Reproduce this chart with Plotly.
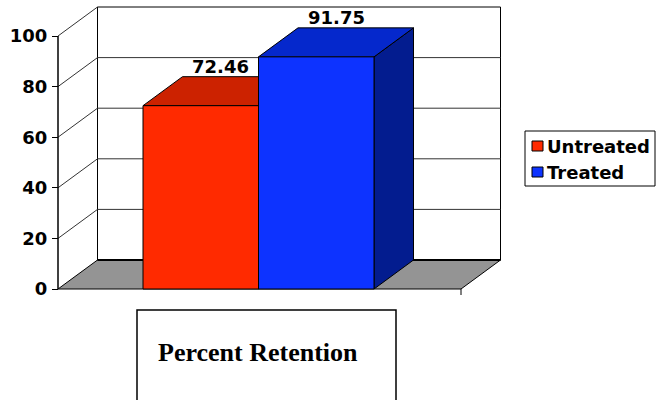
import plotly.graph_objects as go

# ---- data ----
categories = ["Untreated", "Treated"]
values = [72.46, 91.75]
value_labels = ["72.46", "91.75"]
tick_vals = [0, 20, 40, 60, 80, 100]
tick_text = ["0", "20", "40", "60", "80", "100"]
title_text = "Percent Retention"

# ---- styles / geometry ----
FRONT_COLORS = ["#FF2A00", "#0D33FF"]
TOP_COLORS = ["#CC2200", "#0528CC"]
SIDE_COLORS = ["#991A00", "#031C8F"]
FLOOR_COLOR = "#949494"

W, H = 668, 400
Y0_PX = 289.0          # pixel row of value 0 on the front
PX_PER_UNIT = 2.53     # pixels per value unit
DX = 39.5              # depth offset (x units)
DY = 29.0 / PX_PER_UNIT  # depth offset (value units)
X_AXIS = 58.0
X_FLOOR_RIGHT = 461.0
BAR_LEFT = 143.0
BAR_W = 115.5
VMAX = 100

ymin = -(H - Y0_PX) / PX_PER_UNIT
ymax = Y0_PX / PX_PER_UNIT


def py(p):
    return (H - p) / H


FONT_B = dict(family="DejaVu Sans", size=18, color="black", weight="bold")

fig = go.Figure()
shapes = []

# floor
shapes.append(dict(type="path", xref="x", yref="y", layer="below",
                   path=f"M {X_AXIS},0 L {X_FLOOR_RIGHT},0 L {X_FLOOR_RIGHT+DX},{DY} L {X_AXIS+DX},{DY} Z",
                   fillcolor=FLOOR_COLOR, line=dict(color="black", width=1)))
# back wall
shapes.append(dict(type="rect", xref="x", yref="y", layer="below",
                   x0=X_AXIS + DX, x1=X_FLOOR_RIGHT + DX, y0=DY, y1=VMAX + DY,
                   fillcolor="white", line=dict(color="black", width=1)))
shapes.append(dict(type="line", xref="x", yref="y", layer="below",
                   x0=X_AXIS + DX, x1=X_FLOOR_RIGHT + DX, y0=DY, y1=DY,
                   line=dict(color="black", width=2)))
# wall gridlines and side-wall diagonals
for v in tick_vals:
    if 0 < v < VMAX:
        shapes.append(dict(type="line", xref="x", yref="y", layer="below",
                           x0=X_AXIS + DX, x1=X_FLOOR_RIGHT + DX, y0=v + DY, y1=v + DY,
                           line=dict(color="#333333", width=1)))
    if v > 0:
        shapes.append(dict(type="line", xref="x", yref="y", layer="below",
                           x0=X_AXIS, x1=X_AXIS + DX, y0=v, y1=v + DY,
                           line=dict(color="#333333", width=1)))
# front value-axis line
shapes.append(dict(type="line", xref="x", yref="y", layer="below",
                   x0=X_AXIS, x1=X_AXIS, y0=0, y1=VMAX,
                   line=dict(color="black", width=1.5)))
# bottom-right tick
shapes.append(dict(type="line", xref="x", yref="y", layer="below",
                   x0=X_FLOOR_RIGHT, x1=X_FLOOR_RIGHT, y0=0, y1=-6 / PX_PER_UNIT,
                   line=dict(color="black", width=1)))

# bars (side, top, front)
for i, (cat, v) in enumerate(zip(categories, values)):
    l = BAR_LEFT + i * BAR_W
    r = l + BAR_W
    faces = [
        ([r, r + DX, r + DX, r, r], [0, DY, v + DY, v, 0], SIDE_COLORS[i]),
        ([l, l + DX, r + DX, r, l], [v, v + DY, v + DY, v, v], TOP_COLORS[i]),
        ([l, r, r, l, l], [0, 0, v, v, 0], FRONT_COLORS[i]),
    ]
    for xs, ys, col in faces:
        fig.add_trace(go.Scatter(x=xs, y=ys, mode="lines", fill="toself",
                                 fillcolor=col, line=dict(color="black", width=1),
                                 hoverinfo="skip", showlegend=False, name=cat,
                                 cliponaxis=False))

annotations = []
for i, (v, lab) in enumerate(zip(values, value_labels)):
    l = BAR_LEFT + i * BAR_W
    annotations.append(dict(x=l + BAR_W / 2 + DX / 2, y=v + DY, xref="x", yref="y",
                            text=lab, showarrow=False, yanchor="bottom", yshift=-2,
                            font=FONT_B))

# legend (drawn)
LEG_X0, LEG_X1 = 525, 655
shapes.append(dict(type="rect", xref="x", yref="paper", x0=LEG_X0, x1=LEG_X1,
                   y0=py(186), y1=py(131), line=dict(color="black", width=1),
                   fillcolor="white"))
for i, cat in enumerate(categories):
    yc = 146 + i * 26
    shapes.append(dict(type="rect", xref="x", yref="paper", x0=532, x1=543,
                       y0=py(yc + 5), y1=py(yc - 5), fillcolor=FRONT_COLORS[i],
                       line=dict(color="black", width=1)))
    annotations.append(dict(x=545, y=py(yc), xref="x", yref="paper", text=cat,
                            showarrow=False, xanchor="left", yanchor="middle",
                            font=FONT_B))

# bottom title box
shapes.append(dict(type="rect", xref="x", yref="paper", x0=137, x1=396,
                   y0=py(404), y1=py(310), line=dict(color="black", width=1.5)))
annotations.append(dict(x=258, y=py(352), xref="x", yref="paper", text=title_text,
                        showarrow=False, xanchor="center", yanchor="middle",
                        font=dict(family="Liberation Serif", size=26, color="black",
                                  weight="bold")))

fig.update_layout(
    width=W, height=H, margin=dict(l=0, r=0, t=0, b=0, autoexpand=False),
    paper_bgcolor="white", plot_bgcolor="white",
    showlegend=False,
    xaxis=dict(range=[0, W], visible=False, fixedrange=True),
    yaxis=dict(range=[ymin, ymax], fixedrange=True, anchor="free",
               position=X_AXIS / W, side="left", automargin=False,
               tickvals=tick_vals, ticktext=tick_text,
               showline=False, ticks="outside", ticklen=6, tickcolor="black",
               tickwidth=1, showgrid=False, zeroline=False, tickfont=FONT_B,
               ticklabelstandoff=1),
    shapes=shapes, annotations=annotations,
)

fig.write_html("out.html")
